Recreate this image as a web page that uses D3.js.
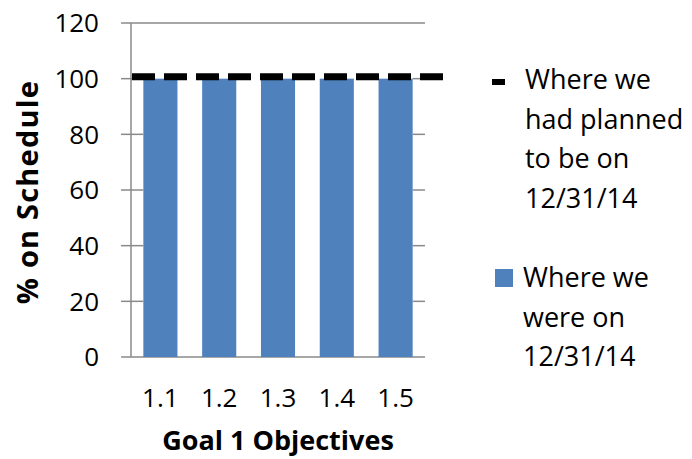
<!DOCTYPE html>
<html>
<head>
<meta charset="utf-8">
<script src="https://cdn.jsdelivr.net/npm/d3@7"></script>
<style>
    body { margin: 0; background: #fff; }
    text { font-family: "Open Sans", sans-serif; fill: #000; }
</style>
</head>
<body>
<svg id="chart"></svg>
<script>
const categories = ['1.1', '1.2', '1.3', '1.4', '1.5']
const actual = [100, 100, 100, 100, 100]      // where we were on 12/31/14
const planned = [100, 100, 100, 100, 100]     // where we had planned to be
const yTicks = [0, 20, 40, 60, 80, 100, 120]
const legendLabels = [
    ['Where we', 'had planned', 'to be on', '12/31/14'],
    ['Where we', 'were on', '12/31/14']
]

const W = 692
const H = 459
const margin = { left: 131, top: 23, right: 267, bottom: 102 }
const width = W - margin.left - margin.right
const height = H - margin.top - margin.bottom
const barColor = '#4f81bd'
const gridColor = '#8a8a8a'

const svg = d3.select('#chart').attr('width', W).attr('height', H)
svg.append('rect').attr('width', W).attr('height', H).attr('fill', '#fff')

const g = svg.append('g').attr('transform', `translate(${margin.left},${margin.top})`)

const xScale = d3.scaleBand().domain(categories).range([0, width])
    .paddingInner(0.42).paddingOuter(0.21)
const yScale = d3.scaleLinear().domain([0, 120]).range([height, 0])

// grid lines only show in the side gaps, the middle is covered
const leftEnd = xScale(categories[0])
const rightStart = xScale(categories[categories.length - 1]) + xScale.bandwidth()
yTicks.forEach(t => {
    const full = (t === 0 || t === 120)
    const segs = full ? [[-10, width]] : [[-10, leftEnd], [rightStart, width]]
    segs.forEach(s => {
        g.append('line')
            .attr('x1', s[0]).attr('x2', s[1])
            .attr('y1', yScale(t)).attr('y2', yScale(t))
            .attr('stroke', gridColor).attr('stroke-width', 1.5)
    })
})

// y axis line
g.append('line')
    .attr('x1', 0).attr('x2', 0)
    .attr('y1', yScale(120)).attr('y2', yScale(0))
    .attr('stroke', gridColor).attr('stroke-width', 1.5)

// y tick labels
g.selectAll('.ylab').data(yTicks).enter().append('text')
    .attr('class', 'ylab')
    .attr('x', -32)
    .attr('y', d => yScale(d))
    .attr('dy', '0.36em')
    .attr('text-anchor', 'end')
    .style('font-size', '26px')
    .text(d => d)

// bars
g.selectAll('.bar').data(actual).enter().append('rect')
    .attr('class', 'bar')
    .attr('x', (d, i) => xScale(categories[i]))
    .attr('y', d => yScale(d))
    .attr('width', xScale.bandwidth())
    .attr('height', d => height - yScale(d))
    .attr('fill', barColor)

// planned dashed line, runs a bit past the plot like the original
const lineX = d3.scaleLinear().domain([0, planned.length - 1]).range([0, width + 20])
const line = d3.line()
    .x((d, i) => lineX(i))
    .y(d => yScale(d))
g.append('path')
    .datum(planned)
    .attr('d', line)
    .attr('fill', 'none')
    .attr('stroke', '#000')
    .attr('stroke-width', 7)
    .attr('stroke-dasharray', '23,9')
    .attr('transform', 'translate(1,-2)')

// x tick labels
g.selectAll('.xlab').data(categories).enter().append('text')
    .attr('class', 'xlab')
    .attr('x', d => xScale(d) + xScale.bandwidth() / 2)
    .attr('y', height + 50)
    .attr('text-anchor', 'middle')
    .style('font-size', '26px')
    .text(d => d)

// axis titles
g.append('text')
    .attr('x', width / 2)
    .attr('y', height + 93)
    .attr('text-anchor', 'middle')
    .style('font-size', '27px')
    .style('font-weight', 'bold')
    .text('Goal 1 Objectives')

g.append('text')
    .attr('transform', `translate(${-93},${height / 2 + 2}) rotate(-90)`)
    .attr('text-anchor', 'middle')
    .style('font-size', '29px')
    .style('font-weight', 'bold')
    .style('letter-spacing', '1.2px')
    .text('% on Schedule')

// legend
const legend = svg.append('g').attr('transform', 'translate(492,0)')
const lineH = 39.5

legend.append('rect')
    .attr('x', 0).attr('y', 79).attr('width', 13).attr('height', 6)
    .attr('fill', '#000')
legend.append('text')
    .attr('x', 33).attr('y', 89)
    .style('font-size', '27px')
    .selectAll('tspan').data(legendLabels[0]).enter().append('tspan')
    .attr('x', 33).attr('dy', (d, i) => i === 0 ? 0 : lineH)
    .text(d => d)

legend.append('rect')
    .attr('x', 3).attr('y', 269).attr('width', 18).attr('height', 18)
    .attr('fill', barColor)
legend.append('text')
    .attr('x', 31).attr('y', 287)
    .style('font-size', '27px')
    .selectAll('tspan').data(legendLabels[1]).enter().append('tspan')
    .attr('x', 31).attr('dy', (d, i) => i === 0 ? 0 : lineH)
    .text(d => d)
</script>
</body>
</html>
